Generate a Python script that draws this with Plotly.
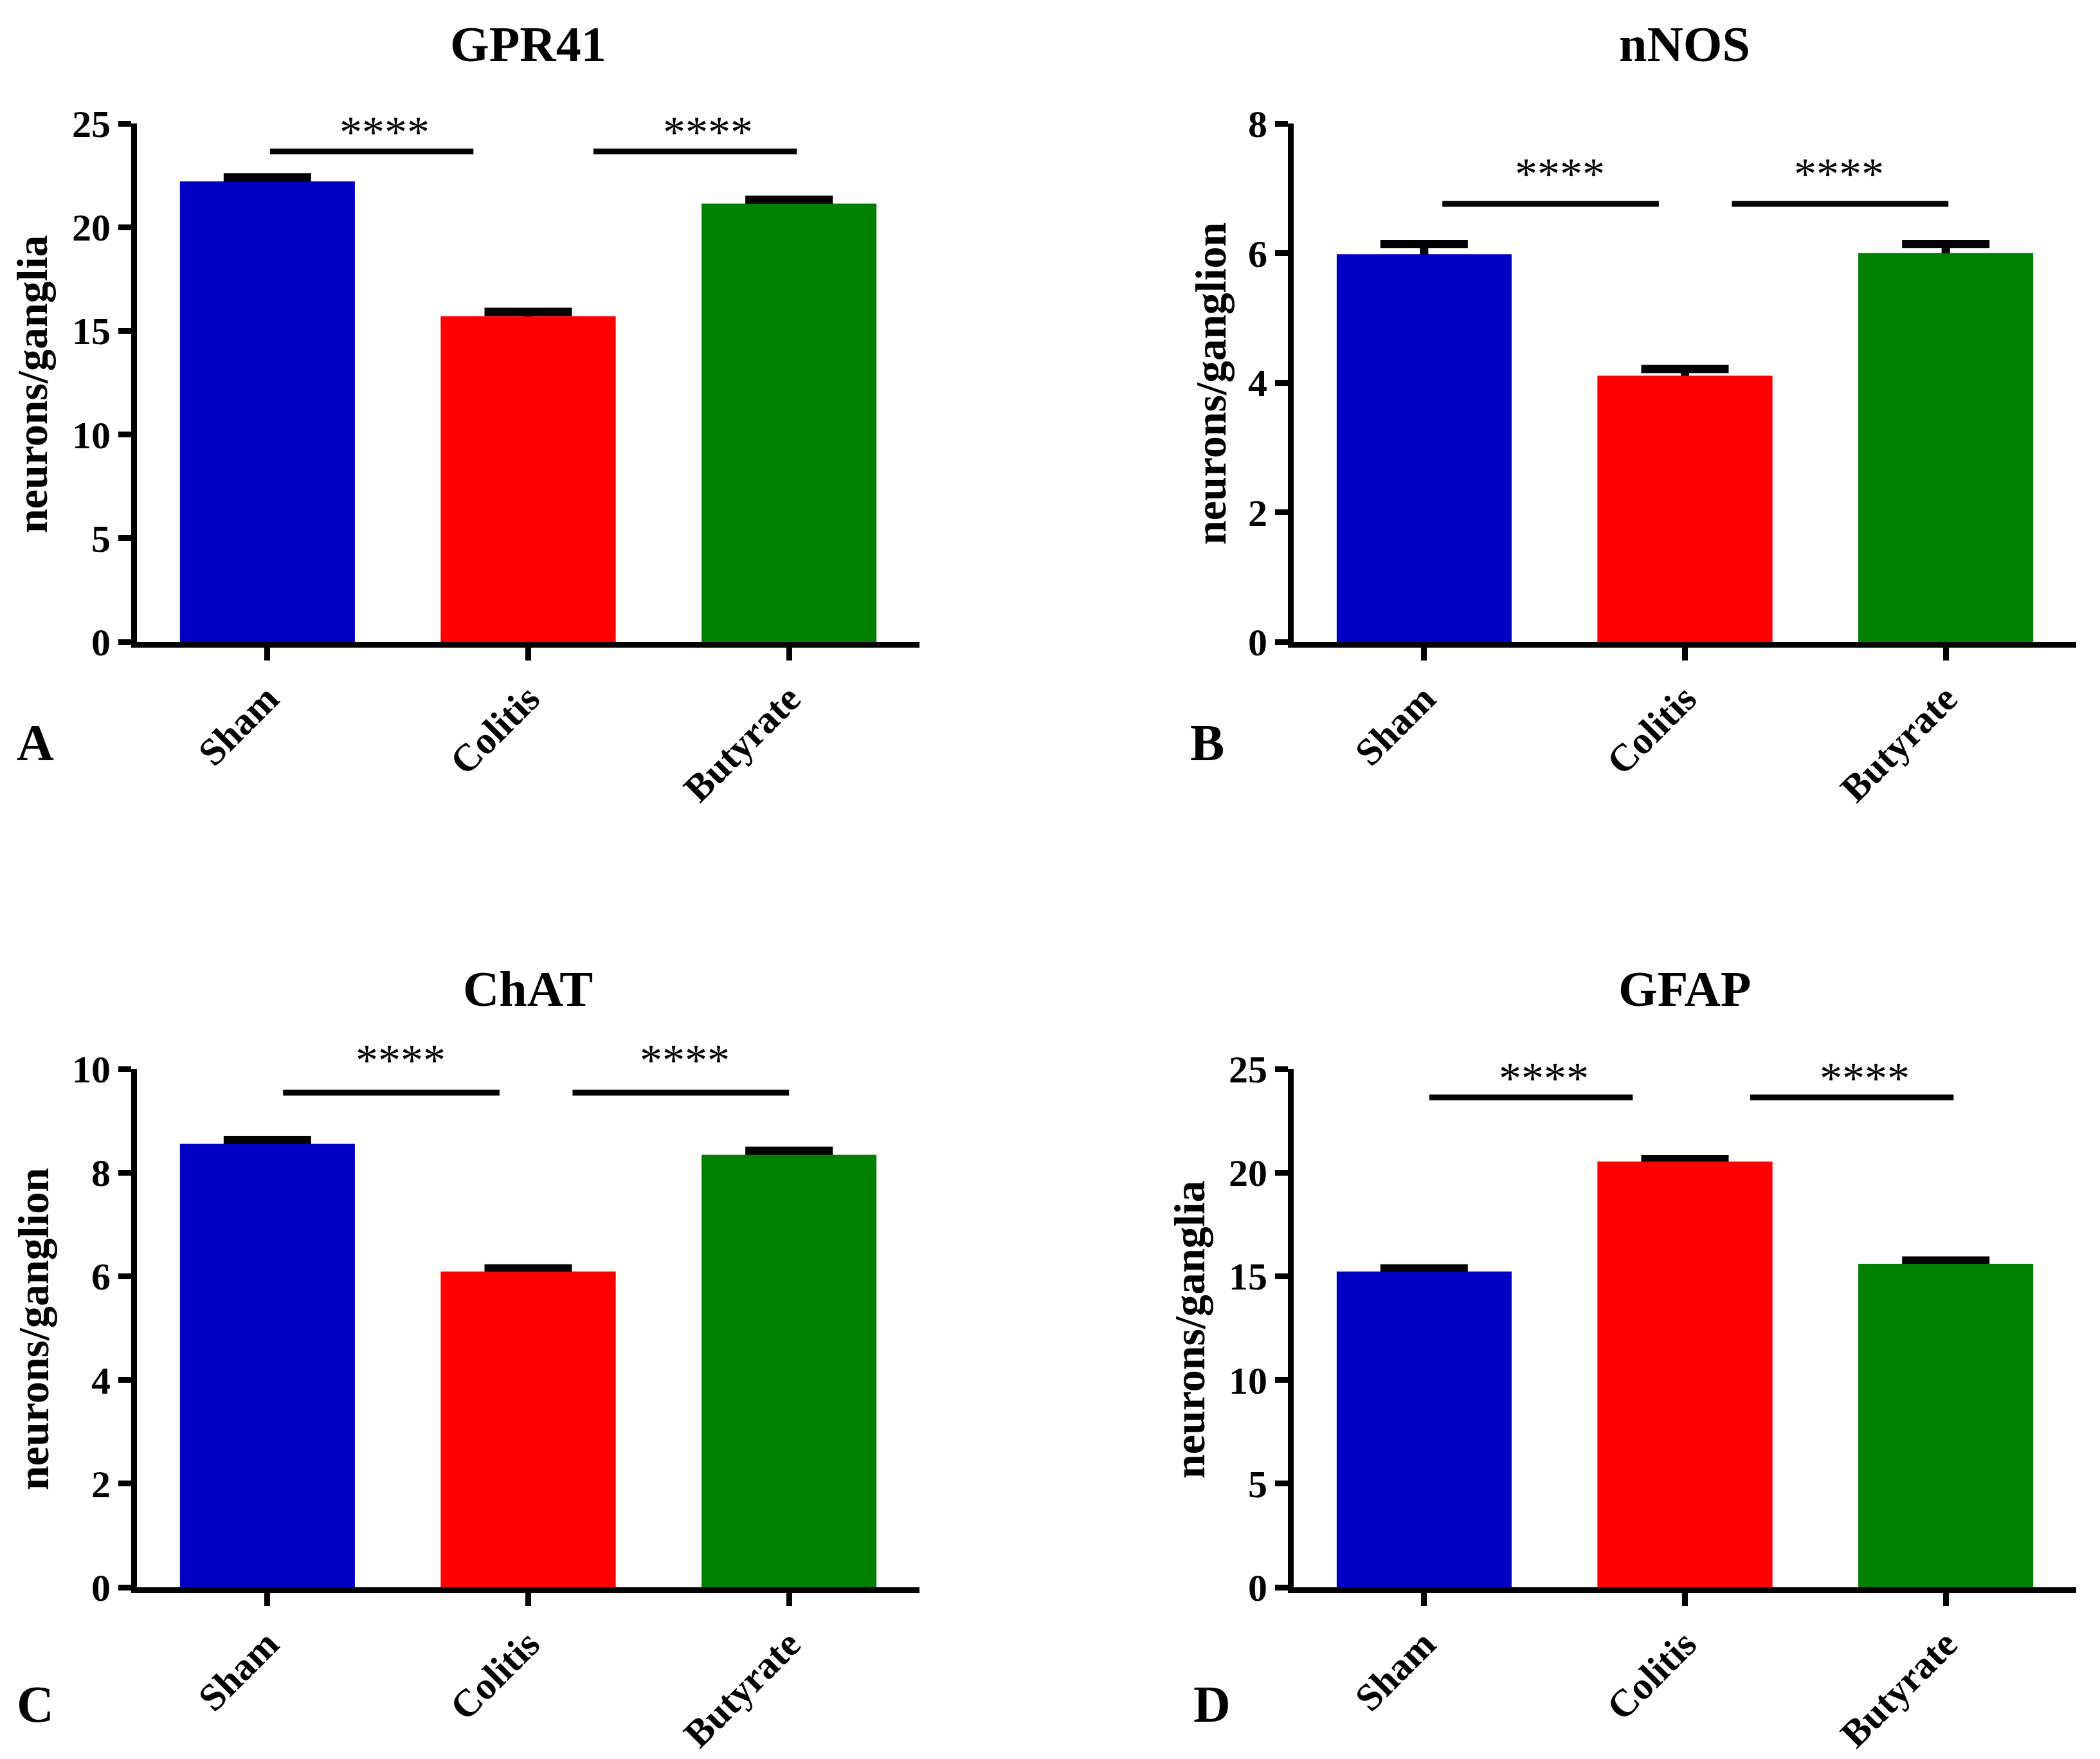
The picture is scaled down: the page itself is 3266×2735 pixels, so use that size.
import plotly.graph_objects as go

# ---------------- data ----------------
categories = ["Sham", "Colitis", "Butyrate"]

gpr41_mean = [22.2, 15.7, 21.13]
gpr41_sem = [0.2, 0.21, 0.19]

nnos_mean = [5.98, 4.11, 6.0]
nnos_sem = [0.16, 0.1, 0.14]

chat_mean = [8.55, 6.09, 8.34]
chat_sem = [0.08, 0.06, 0.08]

gfap_mean = [15.22, 20.53, 15.6]
gfap_sem = [0.16, 0.11, 0.16]

titles = ["GPR41", "nNOS", "ChAT", "GFAP"]
ylabels = ["neurons/ganglia", "neurons/ganglion", "neurons/ganglion", "neurons/ganglia"]
panel_letters = ["A", "B", "C", "D"]
y_max = [25, 8, 10, 25]
y_dtick = [5, 2, 2, 5]
sig_text = "****"

# ---------------- style / layout constants ----------------
W, H = 3266, 2735
FONT = "Liberation Serif, Times New Roman, serif"
bar_colors = ["#0000C4", "#FF0000", "#008000"]
BAR_W = 0.67

# pixel layout (inner edges of axis lines)
x_dom_px = [(213, 1430), (2012, 3229), (213, 1430), (2012, 3229)]
y_dom_px = [(192, 998), (192, 998), (1662, 2468), (1662, 2468)]

# significance bars: (x0, x1) in category units, y in data units
sig_lines = [
    [(0.01, 0.79), (1.25, 2.03)],
    [(0.07, 0.90), (1.18, 2.01)],
    [(0.06, 0.89), (1.17, 2.00)],
    [(0.02, 0.80), (1.25, 2.03)],
]
sig_y = [23.65, 6.76, 9.54, 23.63]
star_x = [[0.45, 1.69], [0.52, 1.59], [0.51, 1.60], [0.46, 1.69]]
star_y = [24.58, 7.22, 10.17, 24.55]

title_px = [(821, 69), (2620, 69), (821, 1537), (2620, 1537)]
letter_px = [(55, 1155), (1878, 1155), (55, 2650), (1885, 2650)]
ylabel_px = [(50, 597), (1883, 597), (52, 2067), (1850, 2067)]

means = [gpr41_mean, nnos_mean, chat_mean, gfap_mean]
sems = [gpr41_sem, nnos_sem, chat_sem, gfap_sem]

fig = go.Figure()
annotations = []
xpos = list(range(len(categories)))

for i in range(4):
    xa = "x" if i == 0 else f"x{i+1}"
    ya = "y" if i == 0 else f"y{i+1}"
    x0p, x1p = x_dom_px[i]
    y0p, y1p = y_dom_px[i]
    xdom = [x0p / W, x1p / W]
    ydom = [1 - y1p / H, 1 - y0p / H]

    # bars carrying the error bars (drawn first)
    fig.add_trace(go.Bar(
        x=xpos, y=means[i], width=BAR_W, xaxis=xa, yaxis=ya,
        marker=dict(color=bar_colors, line=dict(width=0)),
        error_y=dict(type="data", array=sems[i], symmetric=True,
                     color="black", thickness=13, width=68),
        hoverinfo="skip", showlegend=False,
    ))
    # bars on top, hiding the lower half of the error bars
    fig.add_trace(go.Bar(
        x=xpos, y=means[i], width=BAR_W, xaxis=xa, yaxis=ya,
        marker=dict(color=bar_colors, line=dict(width=0)),
        hoverinfo="skip", showlegend=False,
    ))
    # significance lines
    for (x0, x1) in sig_lines[i]:
        fig.add_trace(go.Scatter(
            x=[x0, x1], y=[sig_y[i], sig_y[i]], mode="lines",
            line=dict(color="black", width=9), xaxis=xa, yaxis=ya,
            hoverinfo="skip", showlegend=False,
        ))
    # stars (x in axis units; y via axis domain so they may sit above the range)
    for sx in star_x[i]:
        annotations.append(dict(
            x=sx, xref=xa,
            y=star_y[i] / y_max[i], yref=f"{ya} domain",
            text=sig_text, showarrow=False, xanchor="center", yanchor="middle",
            font=dict(family=FONT, size=70, color="black"),
        ))

    axis_common = dict(
        showline=True, linewidth=9, linecolor="black",
        ticks="outside", ticklen=20, tickwidth=9, tickcolor="black",
        showgrid=False, zeroline=False, automargin=False,
        tickfont=dict(family=FONT, size=60, color="black", weight="bold"),
    )
    xkey = "xaxis" if i == 0 else f"xaxis{i+1}"
    ykey = "yaxis" if i == 0 else f"yaxis{i+1}"
    fig.update_layout({
        xkey: dict(
            domain=xdom, anchor=ya, range=[-0.5, 2.5],
            tickmode="array", tickvals=xpos, ticktext=categories,
            tickangle=-45, **axis_common,
        ),
        ykey: dict(
            domain=ydom, anchor=xa,
            range=[0, y_max[i]], tickmode="linear", tick0=0, dtick=y_dtick[i],
            **axis_common,
        ),
    })

    tx, ty = title_px[i]
    annotations.append(dict(
        x=tx / W, y=1 - ty / H, xref="paper", yref="paper", text=titles[i],
        showarrow=False, xanchor="center", yanchor="middle",
        font=dict(family=FONT, size=78, color="black", weight="bold"),
    ))
    lx, ly = letter_px[i]
    annotations.append(dict(
        x=lx / W, y=1 - ly / H, xref="paper", yref="paper", text=panel_letters[i],
        showarrow=False, xanchor="center", yanchor="middle",
        font=dict(family=FONT, size=80, color="black", weight="bold"),
    ))
    yx, yy = ylabel_px[i]
    annotations.append(dict(
        x=yx / W, y=1 - yy / H, xref="paper", yref="paper", text=ylabels[i],
        showarrow=False, xanchor="center", yanchor="middle", textangle=-90,
        font=dict(family=FONT, size=68, color="black", weight="bold"),
    ))

fig.update_layout(
    width=W, height=H, margin=dict(l=0, r=0, t=0, b=0, autoexpand=False),
    paper_bgcolor="white", plot_bgcolor="white",
    barmode="overlay", showlegend=False, annotations=annotations,
)

fig.write_html(
    "out.html",
    config={"displayModeBar": False, "staticPlot": True},
    post_script="document.body.style.margin='0';document.body.style.overflow='hidden';",
)
